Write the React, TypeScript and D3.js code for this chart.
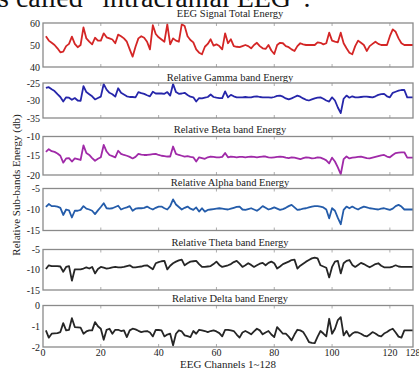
import * as d3 from "d3";
import { useEffect, useRef } from "react";

const channels = d3.range(1, 129);

const totalEnergy = [54, 52, 51, 50, 48.5, 46.7, 47, 49.5, 50.5, 53.8, 50.5, 49, 50, 58, 53, 51.5, 50.3, 53.3, 52, 52, 55.3, 53.5, 53, 52.5, 50.8, 54.7, 54, 53, 51.5, 48, 44.7, 49.2, 53, 54, 53.3, 51.5, 48, 59, 55, 53.5, 52.5, 51.5, 59.4, 50.3, 53, 52, 51.5, 59.4, 58.6, 54, 52.3, 51.2, 48, 46.5, 45.8, 49.2, 50.5, 52.6, 49.7, 50.3, 49.5, 48, 55.3, 50.8, 52.6, 49.5, 49.2, 49, 49.5, 50, 49.5, 48.5, 50, 51, 49.5, 48.5, 48.2, 50, 47.5, 45.9, 50, 51, 50.8, 49.5, 49, 48, 47.3, 49.5, 50.8, 50.3, 50, 50, 50, 50, 51.2, 51, 50.3, 50.8, 55.6, 52, 51.5, 51.2, 55.6, 50.8, 48.5, 46.5, 45.8, 49.5, 52, 51, 50, 47.3, 49.5, 50.5, 51.5, 50.5, 50, 50, 50, 54, 57.1, 56, 53, 50.8, 50, 50, 50, 50];

const gammaEnergy = [-26.4, -26.2, -26.8, -27.3, -28.2, -29, -30.3, -29.1, -29.2, -29.8, -29.3, -30, -30.1, -25.9, -27.6, -28.2, -28.8, -29.7, -29.3, -28.9, -25.3, -26.9, -27.8, -28.2, -28.9, -26.5, -27.8, -28.3, -28.8, -29, -29, -29.1, -27.6, -27.9, -28.1, -28.5, -28.8, -27.5, -28, -28, -28, -28.1, -27.6, -28.6, -25.3, -27.6, -28.1, -28, -27.8, -28.4, -28.9, -29.1, -30.3, -29.3, -29.4, -29.2, -29, -28.3, -29, -29.2, -29.3, -29.3, -27.4, -29.1, -28.4, -28.8, -29.1, -29.1, -29.1, -29, -29.1, -29.1, -28.9, -28.8, -29, -29.1, -29.1, -29.1, -29.2, -29, -28.7, -28.6, -28.9, -29.4, -29.7, -29.4, -29, -28.6, -28.9, -29.4, -29.8, -30, -29.7, -29.4, -29.2, -29.1, -29.5, -30, -30.3, -29.1, -30, -32, -33.6, -29.5, -28.6, -29.2, -28.8, -29.1, -29.1, -29, -28.9, -28.9, -29, -29.1, -28.8, -28.4, -28.2, -28.1, -28.8, -29.1, -27.8, -27.5, -27.2, -27, -27, -29.1, -29.1, -29.1];

const betaEnergy = [-14, -13.3, -13.8, -14, -14.4, -15, -16.8, -15.7, -15.6, -16.5, -15.7, -15.9, -16.1, -12.3, -14.3, -14.8, -15.6, -16.3, -15.8, -15.4, -12.2, -13.9, -14.8, -15.1, -15.4, -13.7, -14.5, -14.8, -15, -15.3, -15.7, -15.3, -14.5, -14.7, -14.8, -14.8, -14.7, -14.6, -14.5, -14.8, -15, -15.1, -15.2, -15.2, -12.6, -14.5, -14.8, -15, -15.2, -15.1, -15.3, -15.4, -16.5, -15.4, -15.6, -15.8, -15.4, -15.2, -15.3, -15.4, -15.4, -15.3, -14.3, -15.4, -15.2, -15.3, -15.4, -15.3, -15.3, -15.4, -15.3, -15.2, -15.3, -15.4, -15.3, -15.2, -15.2, -15.4, -15.5, -15.4, -15.3, -15.2, -15.3, -15.5, -15.6, -15.4, -15.5, -15.7, -15.9, -15.6, -15.4, -15.5, -15.7, -15.6, -15.4, -15.5, -15.8, -16.2, -17, -15.5, -16.5, -18, -19.8, -15.9, -15.2, -15.7, -15.5, -15.4, -15.3, -15.2, -15.4, -15.6, -15.7, -15.5, -15.3, -15.1, -14.9, -14.8, -15.2, -15.4, -14.8, -14.3, -14.2, -14.1, -14.1, -15.5, -15.5, -15.5];

const alphaEnergy = [-9.4, -8.7, -9.2, -9.2, -9.3, -9.6, -11.3, -10, -10.2, -11.9, -10.3, -10.3, -10.1, -9.2, -9.8, -10, -10.3, -11.1, -10.2, -9.4, -8.5, -9.7, -9.8, -9.7, -9.4, -9.1, -10, -9.7, -9.5, -9.2, -10.3, -9.8, -9.7, -9.7, -9.6, -9.3, -9.7, -10, -9.6, -9.3, -9.3, -9.7, -10, -9.2, -7.6, -8.8, -9.4, -10, -9.6, -9.3, -9.8, -10.1, -9.5, -10.5, -9.7, -10.5, -10.1, -10, -9.9, -9.8, -9.7, -9.8, -9.9, -10, -9.8, -9.6, -9.4, -9.3, -10, -10.1, -9.9, -9.7, -10, -10.3, -9.8, -9.2, -9.6, -10, -9.8, -9.5, -9.8, -10.1, -9.9, -9.6, -9.2, -8.9, -9.5, -10.1, -10, -9.8, -9.7, -9.5, -9.3, -9.2, -9.2, -9.3, -9.5, -10, -12.1, -9.7, -10.3, -12, -13.5, -10.1, -9.3, -9.7, -9.3, -9.7, -10, -9.6, -9.3, -9.5, -9.7, -9.8, -9.9, -10, -9.8, -9.7, -9.9, -10.1, -9.8, -9.2, -8.9, -9.3, -10, -10, -10, -10];

const thetaEnergy = [-9.8, -8.9, -9.1, -9.1, -9.1, -9.2, -10.5, -9.3, -9.1, -12.7, -9.9, -9.9, -9.9, -9.7, -9.4, -9.7, -9.3, -10.9, -9.8, -9.3, -9.5, -9.7, -9.6, -9.4, -9.3, -9.4, -9.4, -9.3, -9.1, -8.9, -9.4, -9.4, -9.3, -9.2, -9, -8.9, -9.4, -9.9, -8.4, -8.1, -7.9, -7.8, -9.9, -9, -8.4, -8, -7.7, -7.5, -8.9, -8.4, -8, -7.9, -7.8, -8.6, -9.3, -9.3, -9.2, -9.1, -8.6, -8, -8.8, -9.3, -9.1, -8.9, -8.6, -8.1, -7.8, -8.5, -9.3, -8.9, -8.4, -8.8, -9.3, -8.9, -8.5, -8.3, -8.9, -8.3, -8, -8.4, -9.7, -9.2, -8.6, -8.3, -8, -7.6, -7.5, -9.7, -9, -8.5, -8, -7.6, -7.2, -7, -7.2, -8.9, -9.2, -9.5, -11.9, -9.3, -8, -7.8, -10.9, -8.4, -7.8, -7.6, -8.8, -9.3, -8.8, -8.3, -8.6, -9, -9.4, -9, -8.6, -8.4, -9, -9.4, -9.4, -9.4, -9.2, -8.9, -9.2, -9.3, -9.3, -9.3, -9.3, -9.3];

const deltaEnergy = [-1.2, -1.55, -1.36, -1.34, -1.33, -1.28, -0.85, -1.2, -1.17, -0.61, -1.04, -1.05, -1.07, -1.36, -1.25, -1.2, -1.2, -0.8, -1.0, -1.12, -1.65, -1.17, -1.12, -1.36, -1.17, -1.17, -1.23, -1.2, -1.52, -1.2, -1.12, -1.15, -1.22, -1.28, -1.25, -1.23, -1.3, -1.49, -1.17, -1.18, -1.2, -1.49, -1.4, -1.36, -1.92, -1.36, -1.2, -1.25, -1.44, -1.48, -1.52, -1.23, -1.36, -1.17, -1.2, -1.23, -1.28, -1.23, -1.2, -1.25, -1.33, -1.49, -1.17, -1.17, -1.2, -1.23, -1.4, -1.55, -1.3, -1.23, -1.3, -1.39, -1.25, -1.12, -1.2, -1.39, -1.3, -1.23, -1.4, -1.52, -1.04, -1.2, -1.36, -1.36, -1.5, -1.68, -1.4, -1.17, -1.2, -1.28, -1.5, -1.76, -1.8, -1.81, -1.5, -1.23, -1.35, -1.49, -0.64, -1.36, -1.12, -0.7, -0.56, -1.44, -1.23, -1.49, -1.35, -1.28, -1.3, -1.36, -1.45, -1.49, -1.4, -1.28, -1.35, -1.45, -1.49, -1.35, -1.28, -1.18, -1.12, -1.3, -1.5, -1.55, -1.2, -1.2, -1.2, -1.2];

const xTicks = [0, 20, 40, 60, 80, 100, 120, 128];

const panels = [
    { title: "EEG Signal Total Energy", values: totalEnergy, domain: [40, 60], ticks: [40, 50, 60], color: "#d42626", top: 23, bottom: 67, titleY: 17 },
    { title: "Relative Gamma band Energy", values: gammaEnergy, domain: [-35, -25], ticks: [-35, -30, -25], color: "#2626aa", top: 83, bottom: 118, titleY: 80.5 },
    { title: "Relative Beta band Energy", values: betaEnergy, domain: [-20, -10], ticks: [-20, -15, -10], color: "#a02aa8", top: 136.5, bottom: 175, titleY: 133 },
    { title: "Relative Alpha band Energy", values: alphaEnergy, domain: [-15, -5], ticks: [-15, -10, -5], color: "#245caa", top: 188.5, bottom: 230.5, titleY: 186 },
    { title: "Relative Theta band Energy", values: thetaEnergy, domain: [-15, -5], ticks: [-15, -10, -5], color: "#262626", top: 249.5, bottom: 290, titleY: 246 },
    { title: "Relative Delta band Energy", values: deltaEnergy, domain: [-2, 0], ticks: [-2, -1, 0], color: "#262626", top: 305.5, bottom: 347, titleY: 302 },
];

export default function App() {
    const svgRef = useRef(null);

    useEffect(() => {
        const svg = d3.select(svgRef.current);
        svg.selectAll("*").remove();

        const width = 419;
        const height = 369;
        const left = 43;
        const right = 413;
        const font = "'Liberation Serif', 'Times New Roman', serif";

        svg.attr("viewBox", `0 0 ${width} ${height}`);

        svg.append("rect").attr("width", width).attr("height", height).attr("fill", "#fff");

        // cut-off line of body text above the figure
        svg.append("text")
            .attr("x", -2)
            .attr("y", 7)
            .attr("font-family", font)
            .attr("font-size", 28)
            .attr("fill", "#111")
            .text("s called \u201cintracranial EEG\u201d.");

        const x = d3.scaleLinear().domain([0, 128]).range([left, right]);

        panels.forEach(p => {
            const y = d3.scaleLinear().domain(p.domain).range([p.bottom, p.top]);
            const g = svg.append("g");

            g.append("text")
                .attr("x", 230)
                .attr("y", p.titleY)
                .attr("text-anchor", "middle")
                .attr("font-family", font)
                .attr("font-size", 10.5)
                .attr("fill", "#222")
                .text(p.title);

            // inward ticks, matlab style
            xTicks.slice(1, -1).forEach(t => {
                g.append("line").attr("x1", x(t)).attr("x2", x(t)).attr("y1", p.bottom).attr("y2", p.bottom - 3)
                    .attr("stroke", "#999").attr("stroke-width", 0.8);
                g.append("line").attr("x1", x(t)).attr("x2", x(t)).attr("y1", p.top).attr("y2", p.top + 3)
                    .attr("stroke", "#999").attr("stroke-width", 0.8);
            });

            p.ticks.forEach(t => {
                g.append("text")
                    .attr("x", left - 3)
                    .attr("y", y(t))
                    .attr("dy", "0.35em")
                    .attr("text-anchor", "end")
                    .attr("font-family", font)
                    .attr("font-size", 10)
                    .attr("fill", "#222")
                    .text(t);
            });

            const line = d3.line()
                .x((d, i) => x(channels[i]))
                .y(d => y(d));

            g.append("path")
                .datum(p.values)
                .attr("fill", "none")
                .attr("stroke", p.color)
                .attr("stroke-width", 1.8)
                .attr("stroke-linejoin", "round")
                .attr("d", line);

            g.append("rect")
                .attr("x", left)
                .attr("y", p.top)
                .attr("width", right - left)
                .attr("height", p.bottom - p.top)
                .attr("fill", "none")
                .attr("stroke", "#8a8a8a")
                .attr("stroke-width", 1.3);
        });

        // x axis labels under last panel
        svg.append("g")
            .selectAll("text")
            .data(xTicks)
            .enter()
            .append("text")
            .attr("x", d => x(d))
            .attr("y", 355.5)
            .attr("text-anchor", "middle")
            .attr("font-family", font)
            .attr("font-size", 10)
            .attr("fill", "#222")
            .text(d => d);

        svg.append("text")
            .attr("x", 228)
            .attr("y", 367.5)
            .attr("text-anchor", "middle")
            .attr("font-family", font)
            .attr("font-size", 11)
            .attr("fill", "#222")
            .text("EEG Channels 1~128");

        svg.append("text")
            .attr("transform", "translate(20,185) rotate(-90)")
            .attr("text-anchor", "middle")
            .attr("font-family", font)
            .attr("font-size", 11)
            .attr("fill", "#222")
            .text("Relative Sub-bands Energy (db)");
    }, []);

    return (
        <svg
            ref={svgRef}
            width={419}
            height={369}
            style={{ position: "absolute", left: 0, top: 0, display: "block" }}
        />
    );
}
